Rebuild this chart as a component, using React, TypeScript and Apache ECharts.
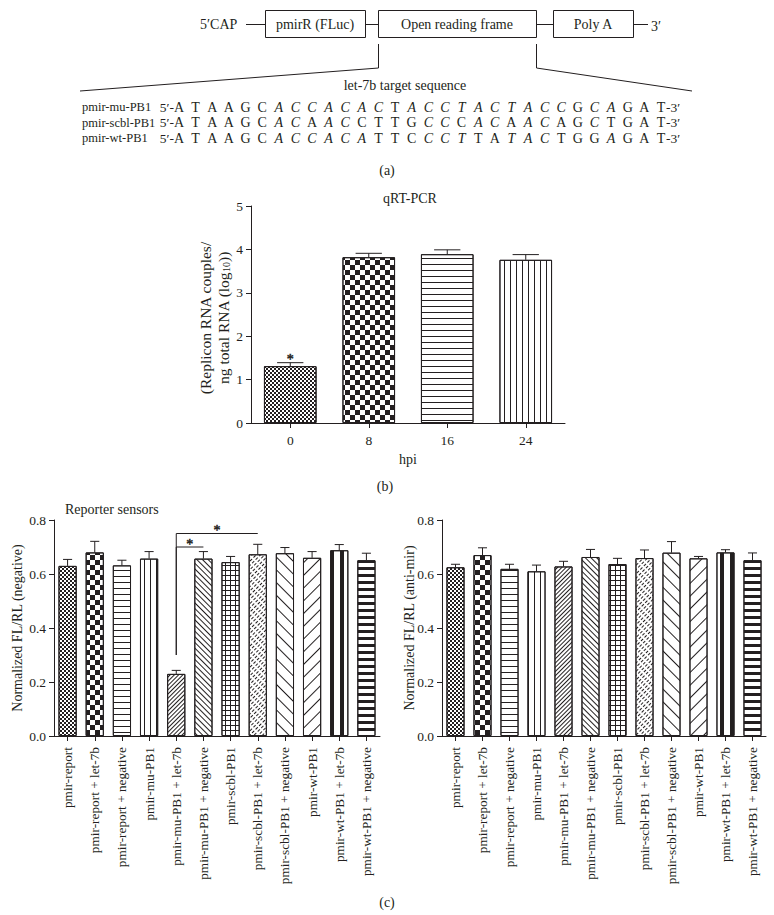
import React, { useEffect, useRef } from 'react';
import * as echarts from 'echarts';

// ---------- data ----------
const constructParts = ['pmirR (FLuc)', 'Open reading frame', 'Poly A'];
const seqTitle = 'let-7b target sequence';
const seqLabels = ['pmir-mu-PB1', 'pmir-scbl-PB1', 'pmir-wt-PB1'];
const seqBases = [
  'ATAAGCACCACACTACCTACTACCGCAGAT',
  'ATAAGCACAACCTTGCCCACAACAGCTGAT',
  'ATAAGCACCACATTCCCTTATACTGGAGAT',
];
const seqItalic = [
  '000000111111101111111111011000',
  '000000110110000110110110010000',
  '000000111111000111001110001000',
];

const qCategories = ['0', '8', '16', '24'];
const qMeans = [1.31, 3.82, 3.89, 3.76];
const qSem = [0.08, 0.09, 0.1, 0.12];
const qStars = ['*', '', '', ''];
const qTicks = [0, 1, 2, 3, 4, 5];

const sensorCategories = [
  'pmir-report',
  'pmir-report + let-7b',
  'pmir-report + negative',
  'pmir-mu-PB1',
  'pmir-mu-PB1 + let-7b',
  'pmir-mu-PB1 + negative',
  'pmir-scbl-PB1',
  'pmir-scbl-PB1 + let-7b',
  'pmir-scbl-PB1 + negative',
  'pmir-wt-PB1',
  'pmir-wt-PB1 + let-7b',
  'pmir-wt-PB1 + negative',
];
const negMeans = [0.63, 0.68, 0.632, 0.657, 0.23, 0.657, 0.644, 0.673, 0.677, 0.66, 0.688, 0.651];
const negSem = [0.024, 0.041, 0.019, 0.026, 0.013, 0.026, 0.021, 0.037, 0.021, 0.023, 0.021, 0.026];
const antiMeans = [0.625, 0.67, 0.619, 0.61, 0.628, 0.663, 0.637, 0.659, 0.679, 0.658, 0.68, 0.651];
const antiSem = [0.011, 0.027, 0.017, 0.023, 0.019, 0.028, 0.021, 0.03, 0.041, 0.007, 0.01, 0.027];
const sensorTicks = [0, 0.2, 0.4, 0.6, 0.8];
const sigBrackets = [
  [4, 5, 0.7],
  [4, 7, 0.75],
];
const sigStemBottom = 0.3;

// ---------- styles ----------
const INK = '#231f20';
const FONT = "'Liberation Serif', 'Times New Roman', serif";

const decalBase = {
  symbol: 'rect',
  symbolSize: 1,
  symbolKeepAspect: false,
  color: INK,
  backgroundColor: '#ffffff',
  rotation: 0,
};
const DECALS: Record<string, any> = {
  fineChecker: { dashArrayX: [[2, 2], [0, 2, 2, 0]], dashArrayY: [2, 0] },
  bigChecker: { dashArrayX: [[5, 5], [0, 5, 5, 0]], dashArrayY: [5, 0] },
  hLines: { dashArrayX: [1, 0], dashArrayY: [1, 5] },
  vLines: { dashArrayX: [1, 5], dashArrayY: [1, 0] },
  slashDense: { dashArrayX: [1, 0], dashArrayY: [1, 2], rotation: -Math.PI / 4 },
  backDense: { dashArrayX: [1, 0], dashArrayY: [1, 3], rotation: Math.PI / 4 },
  grid: { dashArrayX: [[5, 0], [1, 4]], dashArrayY: [1, 0, 4, 0] },
  zigzag: { dashArrayX: [3, 2], dashArrayY: [1, 2], rotation: -Math.PI / 4 },
  backSparse: { dashArrayX: [1, 0], dashArrayY: [1, 8], rotation: Math.PI / 4 },
  slashSparse: { dashArrayX: [1, 0], dashArrayY: [1, 8], rotation: -Math.PI / 4 },
  vBlack: { dashArrayX: [4, 6], dashArrayY: [1, 0] },
  hBlack: { dashArrayX: [1, 0], dashArrayY: [3, 4] },
};
const qPatterns = ['fineChecker', 'bigChecker', 'hLines', 'vLines'];
const sensorPatterns = [
  'fineChecker', 'bigChecker', 'hLines', 'vLines', 'slashDense', 'backDense',
  'grid', 'zigzag', 'backSparse', 'slashSparse', 'vBlack', 'hBlack',
];
const makeDecal = (name: string) => JSON.parse(JSON.stringify({ ...decalBase, ...DECALS[name] }));

const txt = (extra: any = {}) => ({ color: INK, fontFamily: FONT, fontSize: 13, ...extra });
const lineStyle = { color: INK, width: 1 };

function barSeries(axis: number, means: number[], patterns: string[]) {
  return {
    type: 'bar',
    xAxisIndex: axis,
    yAxisIndex: axis,
    barWidth: '67%',
    silent: true,
    z: 2,
    data: means.map((v, i) => ({
      value: v,
      itemStyle: { color: '#ffffff', borderColor: INK, borderWidth: 1, decal: makeDecal(patterns[i]) },
    })),
  };
}

function errorSeries(axis: number, means: number[], sems: number[]) {
  return {
    type: 'custom',
    xAxisIndex: axis,
    yAxisIndex: axis,
    silent: true,
    clip: false,
    z: 5,
    encode: { x: 0, y: [1, 2] },
    data: means.map((m, i) => [i, m, m + sems[i]]),
    renderItem: (params: any, api: any) => {
      const i = api.value(0);
      const base = api.coord([i, api.value(1)]);
      const top = api.coord([i, api.value(2)]);
      const half = api.size([1, 0])[0] * 0.67 * 0.25;
      const st = { stroke: INK, lineWidth: 1 };
      return {
        type: 'group',
        children: [
          { type: 'line', shape: { x1: base[0], y1: base[1], x2: top[0], y2: top[1] }, style: st },
          { type: 'line', shape: { x1: top[0] - half, y1: top[1], x2: top[0] + half, y2: top[1] }, style: st },
        ],
      };
    },
  };
}

function starText(x: number, y: number, t: string) {
  return {
    type: 'text', x, y,
    style: {
      legacy: false,
      text: t,
      align: 'center',
      verticalAlign: 'middle',
      fill: INK,
      stroke: INK,
      lineWidth: 0.5,
      fontFamily: FONT,
      fontSize: 14,
    },
  };
}

function buildGraphic() {
  const els: any[] = [];
  const text = (x: number, y: number, t: string, s: any = {}, extra: any = {}) =>
    els.push({
      type: 'text', x, y, silent: true, ...extra,
      style: { text: t, fill: INK, fontFamily: FONT, fontSize: 13, textAlign: 'left', textVerticalAlign: 'middle', ...s },
    });
  const line = (x1: number, y1: number, x2: number, y2: number) =>
    els.push({ type: 'line', silent: true, shape: { x1, y1, x2, y2 }, style: { stroke: INK, lineWidth: 1 } });

  // (a) construct diagram
  const boxY = 10, boxH = 27, midY = 24.5;
  const boxes = [[265, 365], [378, 536], [553, 633]];
  text(200, 24, "5\u2032CAP", { fontSize: 14 });
  line(246, midY, 265, midY);
  boxes.forEach(([x0, x1], i) => {
    els.push({ type: 'rect', silent: true, shape: { x: x0 + 0.5, y: boxY + 0.5, width: x1 - x0, height: boxH }, style: { fill: '#fff', stroke: INK, lineWidth: 1 } });
    text((x0 + x1) / 2, boxY + boxH / 2 + 0.5, constructParts[i], { textAlign: 'center', fontSize: 14 });
    if (i < boxes.length - 1) line(x1, midY, boxes[i + 1][0], midY);
  });
  line(633, midY, 648, midY);
  text(651, 26, "3\u2032", { fontSize: 14 });
  els.push({ type: 'polyline', silent: true, shape: { points: [[378.5, 44], [378.5, 68], [80, 91]] }, style: { stroke: INK, lineWidth: 1, fill: null } });
  els.push({ type: 'polyline', silent: true, shape: { points: [[536.5, 44], [536.5, 68], [692, 91]] }, style: { stroke: INK, lineWidth: 1, fill: null } });
  text(405, 85, seqTitle, { textAlign: 'center', fontSize: 14 });

  const rowY = [107, 122.5, 138];
  const x0 = 179, step = 16.62;
  seqLabels.forEach((lab, r) => {
    text(82, rowY[r], lab, { fontSize: 12.5 });
    text(x0 - 5, rowY[r], "5\u2032-", { textAlign: 'right', fontSize: 13.5 });
    seqBases[r].split('').forEach((b, k) => {
      const it = seqItalic[r][k] === '1';
      text(x0 + k * step, rowY[r], b, { textAlign: 'center', fontSize: 14, fontStyle: it ? 'italic' : 'normal' });
    });
    text(x0 + 29 * step + 5, rowY[r], "-3\u2032", { fontSize: 13.5 });
  });
  text(387, 170, '(a)', { textAlign: 'center', fontSize: 14 });

  // (b)
  text(410, 198, 'qRT-PCR', { textAlign: 'center', fontSize: 14 });
  text(205, 318, '(Replicon RNA couples/', { textAlign: 'center', fontSize: 15.5 }, { rotation: Math.PI / 2 });
  text(223, 318, 'ng total RNA (log{s|10}))', {
    textAlign: 'center', fontSize: 15.5,
    rich: { s: { fontSize: 10, fontFamily: FONT, fill: INK, verticalAlign: 'bottom', padding: [6, 0, 0, 0] } },
  }, { rotation: Math.PI / 2 });
  text(385, 486, '(b)', { textAlign: 'center', fontSize: 14 });

  // (c)
  text(65, 509, 'Reporter sensors', { fontSize: 14 });
  text(17, 628, 'Normalized FL/RL (negative)', { textAlign: 'center', fontSize: 14 }, { rotation: Math.PI / 2 });
  text(409, 628, 'Normalized FL/RL (anti-mir)', { textAlign: 'center', fontSize: 14 }, { rotation: Math.PI / 2 });
  text(387, 902, '(c)', { textAlign: 'center', fontSize: 14 });
  return els;
}

function buildOption() {
  const catAxis = (grid: number, data: string[], extra: any = {}) => ({
    type: 'category',
    gridIndex: grid,
    data,
    axisLine: { show: true, onZero: false, lineStyle },
    axisTick: { show: true, alignWithLabel: true, length: 5, lineStyle },
    axisLabel: { interval: 0, margin: 10, ...txt(), ...(extra.axisLabel || {}) },
    splitLine: { show: false },
    ...extra.rest,
  });
  const valAxis = (grid: number, ticks: number[], digits: number) => ({
    type: 'value',
    gridIndex: grid,
    min: ticks[0],
    max: ticks[ticks.length - 1],
    interval: ticks[1] - ticks[0],
    axisLine: { show: true, lineStyle },
    axisTick: { show: true, length: 5, lineStyle },
    splitLine: { show: false },
    axisLabel: { margin: 8, ...txt({ fontSize: 13.5 }), formatter: (v: number) => v.toFixed(digits) },
  });
  const rotLabel = { axisLabel: { rotate: 90, fontSize: 13.3, margin: 11 } };

  return {
    animation: false,
    backgroundColor: '#ffffff',
    color: [INK],
    textStyle: { fontFamily: FONT, color: INK },
    grid: [
      { left: 251, top: 206, width: 314, height: 217 },
      { left: 54, top: 520, width: 326, height: 216 },
      { left: 442, top: 520, width: 324, height: 216 },
    ],
    xAxis: [
      catAxis(0, qCategories, {
        axisLabel: { fontSize: 13.5 },
        rest: { name: 'hpi', nameLocation: 'middle', nameGap: 29, nameTextStyle: txt({ fontSize: 14 }) },
      }),
      catAxis(1, sensorCategories, rotLabel),
      catAxis(2, sensorCategories, rotLabel),
    ],
    yAxis: [valAxis(0, qTicks, 0), valAxis(1, sensorTicks, 1), valAxis(2, sensorTicks, 1)],
    series: [
      barSeries(0, qMeans, qPatterns),
      errorSeries(0, qMeans, qSem),
      {
        type: 'custom', xAxisIndex: 0, yAxisIndex: 0, silent: true, clip: false, z: 6,
        itemStyle: { color: INK },
        encode: { x: 0, y: 1 },
        data: qMeans.map((m, i) => [i, m + qSem[i]]),
        renderItem: (params: any, api: any) => {
          const star = qStars[params.dataIndex];
          if (!star) return null;
          const p = api.coord([api.value(0), api.value(1)]);
          return starText(p[0], p[1] - 3, star);
        },
      },
      barSeries(1, negMeans, sensorPatterns),
      errorSeries(1, negMeans, negSem),
      {
        type: 'custom', xAxisIndex: 1, yAxisIndex: 1, silent: true, clip: false, z: 6,
        itemStyle: { color: INK },
        encode: { x: [0, 1], y: 2 },
        data: sigBrackets,
        renderItem: (params: any, api: any) => {
          const from = api.value(0), to = api.value(1), y = api.value(2);
          const a = api.coord([from, y]);
          const b = api.coord([to, y]);
          const s = api.coord([from, sigStemBottom]);
          const st = { stroke: INK, lineWidth: 1 };
          return {
            type: 'group',
            children: [
              { type: 'line', shape: { x1: s[0], y1: s[1], x2: a[0], y2: a[1] }, style: st },
              { type: 'line', shape: { x1: a[0], y1: a[1], x2: b[0], y2: b[1] }, style: st },
              starText((a[0] + b[0]) / 2, a[1] - 3, '*'),
            ],
          };
        },
      },
      barSeries(2, antiMeans, sensorPatterns),
      errorSeries(2, antiMeans, antiSem),
    ],
    graphic: { elements: buildGraphic() },
  };
}

export default function App() {
  const ref = useRef<HTMLDivElement>(null);
  useEffect(() => {
    document.body.style.margin = '0';
    const chart = echarts.init(ref.current as HTMLDivElement, null, { renderer: 'svg', width: 774, height: 915 });
    chart.setOption(buildOption() as any);
    return () => chart.dispose();
  }, []);
  return <div ref={ref} style={{ width: 774, height: 915, background: '#ffffff' }} />;
}
